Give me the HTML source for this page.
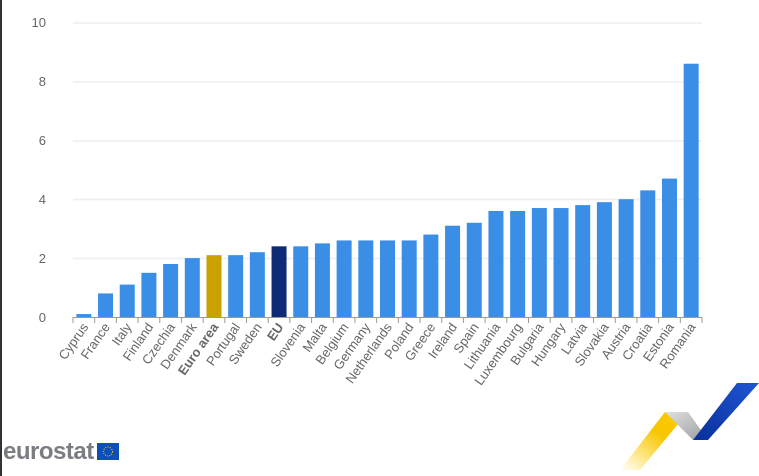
<!DOCTYPE html>
<html><head><meta charset="utf-8"><style>
html,body{margin:0;padding:0;background:#fff;width:759px;height:476px;overflow:hidden}
</style></head><body>
<svg width="759" height="476" xmlns="http://www.w3.org/2000/svg" font-family="Liberation Sans, sans-serif">
<defs>
<linearGradient id="yg" x1="0" y1="1" x2="1" y2="0"><stop offset="0" stop-color="#ffd000" stop-opacity="0"/><stop offset="0.6" stop-color="#f7c600"/><stop offset="1" stop-color="#ffcc00"/></linearGradient>
<linearGradient id="gg" x1="0" y1="0" x2="1" y2="1"><stop offset="0" stop-color="#e0e0e0"/><stop offset="1" stop-color="#9a9da3"/></linearGradient>
<linearGradient id="bg" x1="0" y1="1" x2="1" y2="0"><stop offset="0" stop-color="#0a2f9a"/><stop offset="1" stop-color="#1f55d4"/></linearGradient>
</defs>
<rect x="0" y="0" width="2" height="476" fill="#333"/>
<g stroke="#eceef3" stroke-width="1.5">
<line x1="73" x2="702" y1="23" y2="23"/><line x1="73" x2="702" y1="82" y2="82"/><line x1="73" x2="702" y1="141" y2="141"/><line x1="73" x2="702" y1="199.5" y2="199.5"/><line x1="73" x2="702" y1="258.5" y2="258.5"/>
</g>
<g fill="#666" font-size="13" text-anchor="end">
<text x="46" y="27">10</text><text x="46" y="86">8</text><text x="46" y="145">6</text><text x="46" y="204">4</text><text x="46" y="263">2</text><text x="46" y="322">0</text>
</g>
<g id="bars"></g>
<line x1="73" x2="702" y1="317.5" y2="317.5" stroke="#999" stroke-width="1"/>
<g id="ticks" stroke="#999"></g>
<g id="labels" fill="#666" font-size="13" text-anchor="end"></g>
<text x="3" y="459" font-size="24" fill="#7a7d82" font-weight="bold" letter-spacing="-0.5">eurostat</text>
<rect x="97" y="443" width="22" height="17" fill="#0d4fb8"/>
<circle cx="108" cy="451.5" r="4.5" fill="none" stroke="#ffd400" stroke-width="1" stroke-dasharray="1 1.3"/>
<polygon points="620,470 665,412 688,412 640,470" fill="url(#yg)"/>
<polygon points="665,412 688,412 708,440 693,440" fill="url(#gg)"/>
<polygon points="693,440 708,440 759,383 737,383" fill="url(#bg)"/>
</svg>
<script>
const d=[["Cyprus",0.1],["France",0.8],["Italy",1.1],["Finland",1.5],["Czechia",1.8],["Denmark",2.0],["Euro area",2.1],["Portugal",2.1],["Sweden",2.2],["EU",2.4],["Slovenia",2.4],["Malta",2.5],["Belgium",2.6],["Germany",2.6],["Netherlands",2.6],["Poland",2.6],["Greece",2.8],["Ireland",3.1],["Spain",3.2],["Lithuania",3.6],["Luxembourg",3.6],["Bulgaria",3.7],["Hungary",3.7],["Latvia",3.8],["Slovakia",3.9],["Austria",4.0],["Croatia",4.3],["Estonia",4.7],["Romania",8.6]];
const ns="http://www.w3.org/2000/svg";const w=(702-73)/29;
const B=document.getElementById("bars"),T=document.getElementById("ticks"),L=document.getElementById("labels");
d.forEach((e,i)=>{const cx=73+w*(i+0.5);const h=e[1]*29.45;
const r=document.createElementNS(ns,"rect");r.setAttribute("x",cx-7.5);r.setAttribute("width",15);r.setAttribute("y",317-h);r.setAttribute("height",h);
r.setAttribute("fill",e[0]=="Euro area"?"#c9a100":e[0]=="EU"?"#0c2a75":"#3a8ee6");B.appendChild(r);
const t=document.createElementNS(ns,"line");const tx=73+w*i;t.setAttribute("x1",tx);t.setAttribute("x2",tx);t.setAttribute("y1",317);t.setAttribute("y2",323);T.appendChild(t);
const x=document.createElementNS(ns,"text");x.setAttribute("transform","translate("+(cx+5)+",327) rotate(-55)");x.textContent=e[0];
if(e[0]=="Euro area"||e[0]=="EU")x.setAttribute("font-weight","bold");L.appendChild(x);});
const t=document.createElementNS(ns,"line");t.setAttribute("x1",702);t.setAttribute("x2",702);t.setAttribute("y1",317);t.setAttribute("y2",323);T.appendChild(t);
</script>
</body></html>
